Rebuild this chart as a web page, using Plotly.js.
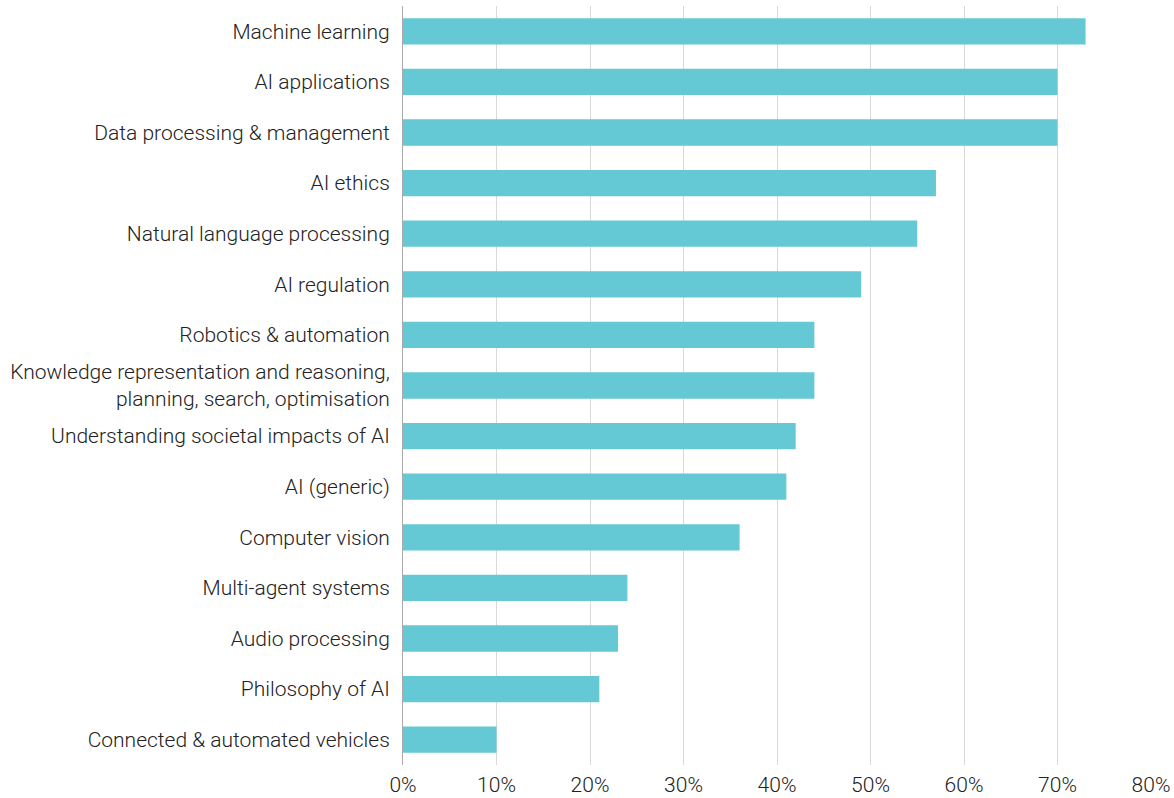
<!DOCTYPE html>
<html>
<head>
<meta charset="utf-8">
<script src="https://cdn.plot.ly/plotly-3.0.1.min.js"></script>
<style>html,body{margin:0;padding:0;background:#fff;}#chart{width:1174px;height:798px;}</style>
</head>
<body>
<div id="chart"></div>
<script>
const categories = [
  "Machine learning",
  "AI applications",
  "Data processing & management",
  "AI ethics",
  "Natural language processing",
  "AI regulation",
  "Robotics & automation",
  "Knowledge representation and reasoning,<br>planning, search, optimisation",
  "Understanding societal impacts of AI",
  "AI (generic)",
  "Computer vision",
  "Multi-agent systems",
  "Audio processing",
  "Philosophy of AI",
  "Connected & automated vehicles"
];
const values = [73, 70, 70, 57, 55, 49, 44, 44, 42, 41, 36, 24, 23, 21, 10];
const xTicks = [0, 10, 20, 30, 40, 50, 60, 70, 80];
const xTickLabels = xTicks.map(v => v + "%");

const trace = {
  type: "bar",
  orientation: "h",
  x: values,
  y: categories,
  marker: {color: "#64C9D4"},
  hoverinfo: "x+y"
};

const layout = {
  width: 1174,
  height: 798,
  margin: {l: 403, r: 23, t: 6, b: 33},
  paper_bgcolor: "#fff",
  plot_bgcolor: "#fff",
  bargap: 0.48,
  showlegend: false,
  font: {family: "Roboto, sans-serif", size: 21, color: "#222", weight: 300},
  xaxis: {
    range: [0, 80],
    tickvals: xTicks,
    ticktext: xTickLabels,
    showgrid: true,
    gridcolor: "#d9d9d9",
    gridwidth: 1,
    zeroline: false,
    showline: false,
    ticks: "",
    ticklabelstandoff: 5,
    fixedrange: true
  },
  yaxis: {
    autorange: "reversed",
    type: "category",
    showgrid: false,
    zeroline: false,
    showline: true,
    linecolor: "#aaaaaa",
    linewidth: 1,
    ticks: "",
    ticklabelstandoff: 8,
    fixedrange: true
  }
};

Plotly.newPlot("chart", [trace], layout, {displayModeBar: false, staticPlot: true});
</script>
</body>
</html>
